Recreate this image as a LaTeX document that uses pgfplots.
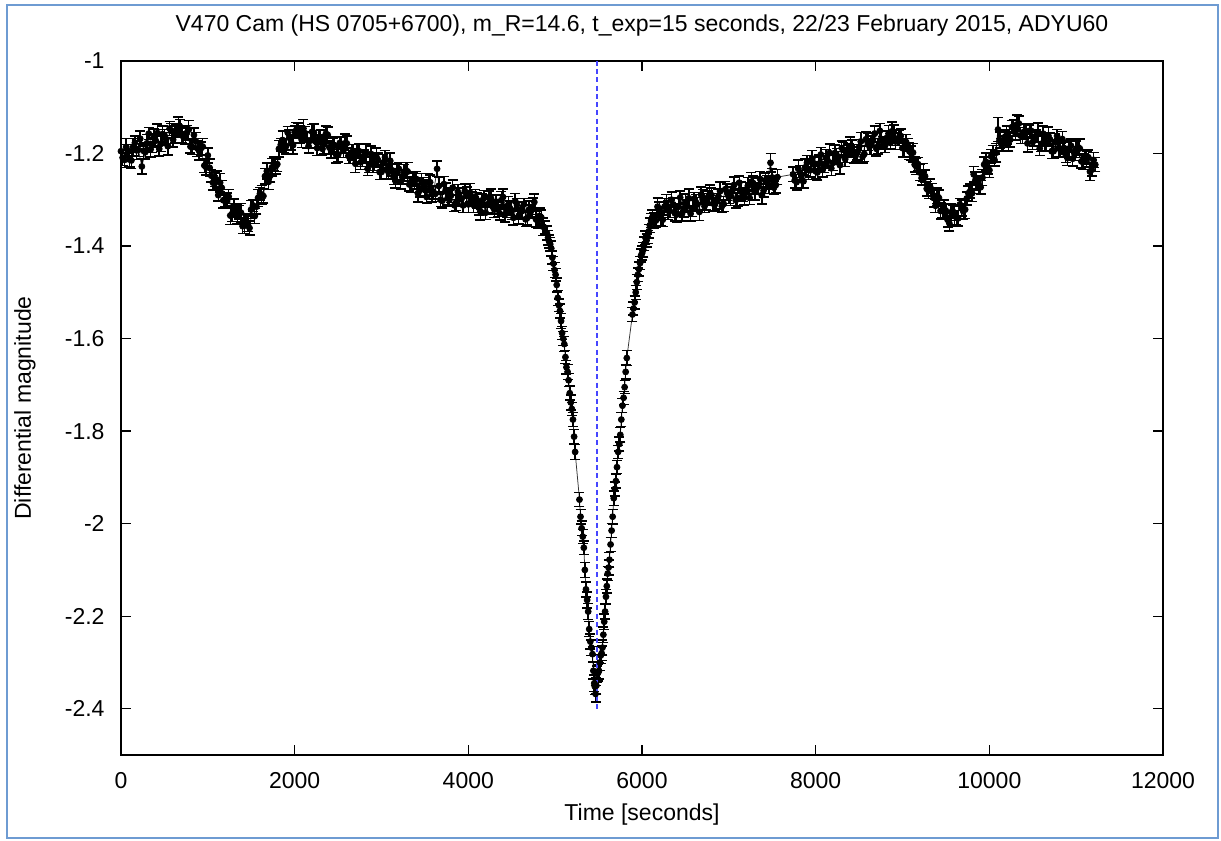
\documentclass[border=0pt]{standalone}
\usepackage{fontspec}
\setmainfont{Liberation Sans}
\usepackage{pgfplots}
\usepackage{pgfplotstable}
\pgfplotsset{compat=1.18}
\definecolor{framecol}{RGB}{110,155,210}
\definecolor{dashblue}{RGB}{70,70,255}

% light curve: time [s], differential magnitude, error
\pgfplotstableread{
x y e
0 -1.195 0.015
40 -1.214 0.016
80 -1.194 0.014
120 -1.215 0.017
160 -1.177 0.015
200 -1.192 0.014
240 -1.228 0.016
280 -1.197 0.015
320 -1.157 0.013
360 -1.182 0.016
400 -1.172 0.014
440 -1.190 0.015
480 -1.158 0.017
520 -1.169 0.014
560 -1.146 0.015
600 -1.170 0.016
640 -1.150 0.014
680 -1.142 0.015
720 -1.165 0.013
760 -1.155 0.016
800 -1.185 0.014
840 -1.160 0.015
880 -1.189 0.017
920 -1.189 0.014
960 -1.226 0.015
1000 -1.204 0.016
1040 -1.248 0.014
1080 -1.256 0.015
1120 -1.290 0.013
1160 -1.274 0.016
1200 -1.302 0.014
1240 -1.293 0.015
1280 -1.330 0.017
1320 -1.323 0.014
1360 -1.327 0.015
1400 -1.357 0.016
1440 -1.345 0.014
1480 -1.361 0.015
1520 -1.312 0.013
1560 -1.315 0.016
1600 -1.287 0.014
1640 -1.292 0.015
1680 -1.238 0.017
1720 -1.248 0.014
1760 -1.222 0.015
1800 -1.223 0.016
1840 -1.181 0.014
1880 -1.183 0.015
1920 -1.155 0.013
1960 -1.176 0.016
2000 -1.154 0.014
2040 -1.149 0.015
2080 -1.170 0.017
2120 -1.156 0.014
2160 -1.184 0.015
2200 -1.153 0.016
2240 -1.174 0.014
2280 -1.165 0.015
2320 -1.190 0.013
2360 -1.157 0.016
2400 -1.187 0.014
2440 -1.182 0.015
2480 -1.204 0.017
2520 -1.177 0.014
2560 -1.194 0.015
2600 -1.178 0.016
2640 -1.208 0.014
2680 -1.195 0.015
2720 -1.194 0.013
2760 -1.219 0.016
2800 -1.206 0.014
2840 -1.233 0.015
2880 -1.201 0.017
2920 -1.223 0.014
2960 -1.214 0.015
3000 -1.240 0.016
3040 -1.208 0.014
3080 -1.240 0.015
3120 -1.236 0.013
3160 -1.259 0.016
3200 -1.233 0.014
3240 -1.251 0.015
3280 -1.236 0.017
3320 -1.267 0.014
3360 -1.255 0.015
3400 -1.255 0.016
3440 -1.280 0.014
3480 -1.267 0.015
3520 -1.294 0.013
3560 -1.262 0.016
3600 -1.284 0.014
3640 -1.233 0.017
3680 -1.300 0.015
3720 -1.266 0.016
3760 -1.297 0.014
3800 -1.291 0.015
3840 -1.312 0.013
3880 -1.283 0.016
3920 -1.299 0.014
3960 -1.281 0.015
4000 -1.310 0.017
4040 -1.296 0.014
4080 -1.293 0.015
4120 -1.317 0.016
4160 -1.302 0.014
4200 -1.328 0.015
4240 -1.294 0.013
4280 -1.315 0.016
4320 -1.304 0.014
4360 -1.329 0.015
4400 -1.294 0.017
4440 -1.324 0.014
4480 -1.318 0.015
4520 -1.339 0.016
4560 -1.311 0.014
4600 -1.327 0.015
4640 -1.310 0.013
4680 -1.339 0.016
4720 -1.325 0.014
4760 -1.305 0.017
4800 -1.347 0.015
4840 -1.338 0.016
4880 -1.360 0.014
4905 -1.372 0.015
4918 -1.382 0.016
4930 -1.390 0.014
4943 -1.396 0.015
4955 -1.405 0.016
4968 -1.425 0.014
4980 -1.438 0.015
4993 -1.452 0.016
5005 -1.462 0.014
5018 -1.484 0.015
5030 -1.512 0.016
5043 -1.528 0.014
5055 -1.540 0.015
5068 -1.562 0.016
5080 -1.588 0.014
5093 -1.600 0.015
5105 -1.612 0.016
5118 -1.640 0.014
5130 -1.662 0.015
5143 -1.672 0.016
5155 -1.690 0.014
5168 -1.718 0.015
5180 -1.738 0.016
5192 -1.752 0.014
5205 -1.775 0.015
5218 -1.812 0.016
5230 -1.845 0.016
5280 -1.948 0.015
5292 -1.985 0.016
5305 -2.010 0.016
5318 -2.028 0.015
5330 -2.052 0.015
5342 -2.100 0.016
5355 -2.142 0.016
5368 -2.165 0.017
5380 -2.190 0.017
5392 -2.228 0.016
5405 -2.255 0.016
5418 -2.268 0.017
5430 -2.282 0.017
5440 -2.318 0.018
5450 -2.345 0.018
5457 -2.352 0.017
5465 -2.368 0.018
5475 -2.350 0.018
5485 -2.325 0.017
5495 -2.322 0.018
5505 -2.318 0.018
5515 -2.300 0.017
5525 -2.285 0.017
5535 -2.280 0.016
5545 -2.268 0.016
5555 -2.240 0.017
5565 -2.212 0.017
5575 -2.190 0.016
5585 -2.158 0.016
5595 -2.135 0.015
5605 -2.108 0.015
5615 -2.095 0.016
5625 -2.078 0.016
5638 -2.045 0.015
5650 -2.015 0.015
5662 -1.985 0.016
5675 -1.945 0.016
5688 -1.925 0.015
5700 -1.908 0.015
5712 -1.878 0.014
5725 -1.845 0.014
5738 -1.828 0.015
5750 -1.808 0.016
5762 -1.775 0.015
5775 -1.745 0.015
5788 -1.728 0.014
5800 -1.705 0.014
5812 -1.672 0.015
5825 -1.642 0.016
5890 -1.548 0.015
5902 -1.535 0.014
5915 -1.522 0.014
5928 -1.500 0.015
5940 -1.478 0.016
5952 -1.462 0.015
5965 -1.450 0.015
5978 -1.437 0.014
5990 -1.420 0.014
6002 -1.415 0.015
6015 -1.408 0.016
6028 -1.395 0.015
6040 -1.382 0.015
6052 -1.388 0.014
6065 -1.380 0.014
6078 -1.368 0.015
6090 -1.355 0.016
6105 -1.345 0.015
6120 -1.337 0.015
6160 -1.345 0.014
6200 -1.321 0.016
6240 -1.343 0.015
6280 -1.306 0.017
6320 -1.324 0.014
6360 -1.310 0.015
6400 -1.332 0.016
6440 -1.295 0.014
6480 -1.322 0.015
6520 -1.313 0.013
6560 -1.330 0.016
6600 -1.298 0.014
6640 -1.310 0.015
6680 -1.289 0.017
6720 -1.314 0.014
6760 -1.296 0.015
6800 -1.290 0.016
6840 -1.310 0.014
6880 -1.292 0.015
6920 -1.314 0.013
6960 -1.277 0.016
7000 -1.294 0.014
7040 -1.280 0.015
7080 -1.301 0.017
7120 -1.263 0.014
7160 -1.289 0.015
7200 -1.279 0.016
7240 -1.296 0.014
7280 -1.264 0.015
7320 -1.276 0.013
7360 -1.255 0.016
7400 -1.280 0.014
7440 -1.262 0.015
7480 -1.220 0.020
7520 -1.274 0.015
7560 -1.251 0.016
7740 -1.245 0.016
7780 -1.262 0.017
7820 -1.241 0.015
7860 -1.260 0.014
7900 -1.220 0.016
7940 -1.236 0.015
7980 -1.221 0.014
8020 -1.241 0.016
8060 -1.202 0.015
8100 -1.227 0.014
8140 -1.216 0.016
8180 -1.232 0.015
8220 -1.199 0.017
8260 -1.210 0.014
8300 -1.188 0.015
8340 -1.212 0.016
8380 -1.193 0.014
8420 -1.186 0.015
8460 -1.205 0.013
8500 -1.186 0.016
8540 -1.207 0.014
8580 -1.169 0.015
8620 -1.185 0.017
8660 -1.170 0.014
8700 -1.190 0.015
8740 -1.151 0.016
8780 -1.177 0.014
8820 -1.166 0.015
8860 -1.177 0.013
8900 -1.154 0.016
8940 -1.169 0.014
8980 -1.162 0.015
9020 -1.190 0.017
9060 -1.182 0.014
9100 -1.199 0.015
9140 -1.224 0.016
9180 -1.223 0.014
9220 -1.253 0.015
9260 -1.249 0.013
9300 -1.281 0.016
9340 -1.279 0.014
9380 -1.313 0.015
9420 -1.296 0.017
9460 -1.324 0.014
9500 -1.324 0.015
9540 -1.351 0.016
9580 -1.325 0.014
9620 -1.338 0.015
9660 -1.310 0.013
9700 -1.325 0.016
9740 -1.297 0.014
9780 -1.281 0.015
9820 -1.245 0.017
9860 -1.263 0.014
9900 -1.273 0.015
9940 -1.224 0.016
9980 -1.230 0.014
10020 -1.206 0.015
10060 -1.214 0.013
10100 -1.148 0.026
10140 -1.181 0.014
10180 -1.164 0.015
10220 -1.178 0.017
10260 -1.143 0.014
10300 -1.156 0.015
10340 -1.135 0.016
10380 -1.164 0.014
10420 -1.152 0.015
10460 -1.151 0.013
10500 -1.175 0.016
10540 -1.162 0.014
10580 -1.189 0.015
10620 -1.157 0.017
10660 -1.179 0.014
10700 -1.170 0.015
10740 -1.195 0.016
10780 -1.162 0.014
10820 -1.193 0.015
10860 -1.188 0.013
10900 -1.210 0.016
10940 -1.183 0.014
10980 -1.200 0.015
11020 -1.186 0.017
11060 -1.217 0.014
11100 -1.207 0.015
11140 -1.208 0.016
11180 -1.235 0.014
11220 -1.224 0.015
}\lc

% interleaved exposures outside the eclipse
\pgfplotstableread{
x y e
20 -1.209 0.017
60 -1.186 0.019
100 -1.213 0.016
140 -1.186 0.018
180 -1.193 0.020
220 -1.168 0.017
260 -1.194 0.017
300 -1.178 0.019
340 -1.191 0.016
380 -1.165 0.018
420 -1.156 0.020
460 -1.179 0.017
500 -1.165 0.017
540 -1.184 0.019
580 -1.151 0.016
620 -1.159 0.018
660 -1.141 0.020
700 -1.159 0.017
740 -1.162 0.017
780 -1.148 0.019
820 -1.186 0.016
860 -1.173 0.018
900 -1.194 0.020
940 -1.185 0.017
980 -1.229 0.017
1020 -1.231 0.019
1060 -1.263 0.016
1100 -1.256 0.018
1140 -1.263 0.020
1180 -1.301 0.017
1220 -1.302 0.017
1260 -1.334 0.019
1300 -1.314 0.016
1340 -1.334 0.018
1380 -1.328 0.020
1420 -1.356 0.017
1460 -1.352 0.017
1500 -1.321 0.019
1540 -1.335 0.016
1580 -1.296 0.018
1620 -1.289 0.020
1660 -1.249 0.017
1700 -1.261 0.017
1740 -1.230 0.019
1780 -1.228 0.016
1820 -1.190 0.018
1860 -1.171 0.020
1900 -1.184 0.017
1940 -1.166 0.017
1980 -1.182 0.019
2020 -1.149 0.016
2060 -1.159 0.018
2100 -1.146 0.020
2140 -1.171 0.017
2180 -1.172 0.017
2220 -1.155 0.019
2260 -1.188 0.016
2300 -1.167 0.018
2340 -1.180 0.020
2380 -1.160 0.017
2420 -1.193 0.017
2460 -1.183 0.019
2500 -1.202 0.016
2540 -1.182 0.018
2580 -1.178 0.020
2620 -1.205 0.017
2660 -1.197 0.017
2700 -1.222 0.019
2740 -1.195 0.016
2780 -1.210 0.018
2820 -1.199 0.020
2860 -1.224 0.017
2900 -1.224 0.017
2940 -1.207 0.019
2980 -1.240 0.016
3020 -1.220 0.018
3060 -1.234 0.020
3100 -1.216 0.017
3140 -1.250 0.017
3180 -1.241 0.019
3220 -1.261 0.016
3260 -1.242 0.018
3300 -1.239 0.020
3340 -1.267 0.017
3380 -1.260 0.017
3420 -1.286 0.019
3460 -1.259 0.016
3500 -1.274 0.018
3540 -1.263 0.020
3580 -1.288 0.017
3620 -1.287 0.017
3660 -1.270 0.019
3700 -1.302 0.016
3740 -1.282 0.018
3780 -1.294 0.020
3820 -1.274 0.017
3860 -1.306 0.017
3900 -1.294 0.019
3940 -1.312 0.016
3980 -1.290 0.018
4020 -1.285 0.020
4060 -1.311 0.017
4100 -1.301 0.017
4140 -1.325 0.019
4180 -1.296 0.016
4220 -1.310 0.018
4260 -1.297 0.020
4300 -1.321 0.017
4340 -1.319 0.017
4380 -1.301 0.019
4420 -1.332 0.016
4460 -1.311 0.018
4500 -1.323 0.020
4540 -1.303 0.017
4580 -1.335 0.017
4620 -1.324 0.019
4660 -1.342 0.016
4700 -1.321 0.018
4740 -1.316 0.020
4780 -1.342 0.017
4820 -1.335 0.017
4860 -1.358 0.019
6140 -1.345 0.017
6180 -1.315 0.019
6220 -1.340 0.016
6260 -1.315 0.018
6300 -1.323 0.020
6340 -1.300 0.017
6380 -1.329 0.017
6420 -1.315 0.019
6460 -1.330 0.016
6500 -1.306 0.018
6540 -1.297 0.020
6580 -1.319 0.017
6620 -1.306 0.017
6660 -1.326 0.019
6700 -1.294 0.016
6740 -1.304 0.018
6780 -1.288 0.020
6820 -1.308 0.017
6860 -1.303 0.017
6900 -1.281 0.019
6940 -1.309 0.016
6980 -1.284 0.018
7020 -1.292 0.020
7060 -1.268 0.017
7100 -1.296 0.017
7140 -1.281 0.019
7180 -1.295 0.016
7220 -1.270 0.018
7260 -1.261 0.020
7300 -1.283 0.017
7340 -1.270 0.017
7380 -1.290 0.019
7420 -1.258 0.016
7460 -1.268 0.018
7500 -1.252 0.020
7540 -1.268 0.017
7760 -1.258 0.017
7800 -1.233 0.019
7840 -1.258 0.016
7880 -1.230 0.018
7920 -1.236 0.020
7960 -1.211 0.017
8000 -1.238 0.017
8040 -1.222 0.019
8080 -1.235 0.016
8120 -1.209 0.018
8160 -1.199 0.020
8200 -1.220 0.017
8240 -1.206 0.017
8280 -1.225 0.019
8320 -1.192 0.016
8360 -1.201 0.018
8400 -1.184 0.020
8440 -1.203 0.017
8480 -1.197 0.017
8520 -1.174 0.019
8560 -1.201 0.016
8600 -1.175 0.018
8640 -1.182 0.020
8680 -1.157 0.017
8720 -1.184 0.017
8760 -1.169 0.019
8800 -1.182 0.016
8840 -1.157 0.018
8880 -1.152 0.020
8920 -1.174 0.017
8960 -1.166 0.017
9000 -1.188 0.019
9040 -1.175 0.016
9080 -1.195 0.018
9120 -1.198 0.020
9160 -1.228 0.017
9200 -1.241 0.017
9240 -1.241 0.019
9280 -1.276 0.016
9320 -1.273 0.018
9360 -1.296 0.020
9400 -1.291 0.017
9440 -1.324 0.017
9480 -1.319 0.019
9520 -1.343 0.016
9560 -1.327 0.018
9600 -1.334 0.020
9640 -1.340 0.017
9680 -1.318 0.017
9720 -1.321 0.019
9760 -1.286 0.016
9800 -1.286 0.018
9840 -1.260 0.020
9880 -1.269 0.017
9920 -1.252 0.017
9960 -1.218 0.019
10000 -1.236 0.016
10040 -1.201 0.018
10080 -1.198 0.020
10120 -1.171 0.017
10160 -1.179 0.017
10200 -1.160 0.019
10240 -1.170 0.016
10280 -1.145 0.018
10320 -1.137 0.020
10360 -1.161 0.017
10400 -1.153 0.017
10440 -1.178 0.019
10480 -1.151 0.016
10520 -1.166 0.018
10560 -1.154 0.020
10600 -1.179 0.017
10640 -1.179 0.017
10680 -1.162 0.019
10720 -1.195 0.016
10760 -1.175 0.018
10800 -1.188 0.020
10840 -1.169 0.017
10880 -1.202 0.017
10920 -1.192 0.019
10960 -1.211 0.016
11000 -1.191 0.018
11040 -1.189 0.020
11080 -1.218 0.017
11120 -1.212 0.017
11160 -1.239 0.019
11200 -1.214 0.016
}\lcb

\begin{document}
\begin{tikzpicture}[font=\fontsize{9.2}{11}\selectfont]
\path[use as bounding box] (-48.4pt,-34.4pt) rectangle (440pt,302pt);
\begin{axis}[
    scale only axis,
    width=416.8pt, height=277.6pt,
    at={(0,0)}, anchor=south west,
    xmin=0, xmax=12000,
    ymin=-2.5, ymax=-1,
    xtick={0,2000,4000,6000,8000,10000,12000},
    ytick={-2.4,-2.2,-2,-1.8,-1.6,-1.4,-1.2,-1},
    scaled x ticks=false,
    /pgf/number format/.cd, assume math mode=true, set thousands separator={},
    /pgfplots/.cd,
    tick align=inside,
    major tick length=4pt,
    tick style={black, line width=0.5pt},
    axis line style={line width=0.7pt},
    tick label style={font=\fontsize{9.2}{11}\selectfont},
    yticklabel style={anchor=east, inner sep=0pt, xshift=-6.4pt},
    xticklabel style={anchor=north, inner sep=0pt, yshift=-6.6pt},
]
    \addplot[black!80, line width=0.3pt, mark=*, mark size=1.2pt,
        mark options={black},
        error bars/.cd, y dir=both, y explicit,
        error bar style={line width=0.6pt, black},
        error mark options={rotate=90, line width=0.6pt, mark size=2pt, black}]
        table[x=x, y=y, y error=e] {\lc};
    \addplot[black, only marks, mark=*, mark size=1.2pt,
        error bars/.cd, y dir=both, y explicit,
        error bar style={line width=0.6pt, black},
        error mark options={rotate=90, line width=0.6pt, mark size=2pt, black}]
        table[x=x, y=y, y error=e] {\lcb};
    \addplot[dashblue, line width=0.6pt, dash pattern=on 2pt off 1.3pt]
        coordinates {(5480,-1) (5480,-2.4)};
\end{axis}
\node at (208.4pt,291.6pt) {V470 Cam (HS 0705+6700), m\_R=14.6, t\_exp=15 seconds, 22/23 February 2015, ADYU60};
\node at (208.4pt,-24pt) {Time [seconds]};
\node[rotate=90] at (-38.4pt,138.8pt) {Differential magnitude};
\draw[framecol, line width=0.8pt] (-45.6pt,-33.2pt) rectangle (438.8pt,300pt);
\end{tikzpicture}
\end{document}
